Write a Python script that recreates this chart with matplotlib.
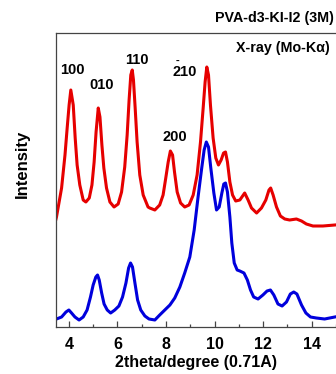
import matplotlib
matplotlib.use("Agg")
import matplotlib.pyplot as plt
from matplotlib.ticker import MultipleLocator

plt.rcParams['font.family'] = ['Liberation Sans', 'DejaVu Sans']

# Red curve (PVA-d3-KI-I2, upper trace)
red_x = [3.47, 3.49, 3.70, 3.84, 3.93, 4.01, 4.08, 4.18, 4.26, 4.34, 4.45, 4.59, 4.70, 4.84,
         4.95, 5.04, 5.12, 5.21, 5.28, 5.36, 5.44, 5.55, 5.69, 5.86, 6.03, 6.17, 6.30, 6.40,
         6.48, 6.55, 6.61, 6.66, 6.73, 6.81, 6.92, 7.06, 7.26, 7.33, 7.54, 7.74, 7.88, 7.99,
         8.09, 8.18, 8.27, 8.35, 8.46, 8.60, 8.77, 8.95, 9.12, 9.28, 9.42, 9.53, 9.61, 9.68,
         9.75, 9.83, 9.94, 10.05, 10.16, 10.27, 10.37, 10.45, 10.53, 10.63, 10.74, 10.87,
         11.04, 11.24, 11.38, 11.52, 11.73, 11.93, 12.11, 12.24, 12.31, 12.41, 12.55, 12.71,
         12.89, 13.09, 13.37, 13.58, 13.78, 14.05, 14.46, 14.95]
red_y = [108, 110, 139, 172, 199, 222, 237, 222, 189, 162, 142, 127, 125, 129,
         142, 165, 195, 219, 210, 182, 159, 139, 125, 120, 123, 135, 160, 192,
         227, 252, 257, 247, 219, 185, 152, 132, 120, 119, 117, 122, 132, 149,
         165, 176, 172, 155, 135, 124, 120, 122, 132, 152, 185, 219, 245, 260,
         252, 222, 189, 169, 162, 167, 174, 175, 165, 145, 132, 126,
         127, 134, 127, 119, 114, 119, 127, 137, 139, 132, 120, 111,
         108, 107, 108, 106, 103, 101, 101, 102]

# Blue curve (lower trace)
blue_x = [3.47, 3.49, 3.70, 3.88, 4.00, 4.11, 4.25, 4.42, 4.59, 4.75, 4.89, 5.00, 5.11, 5.18,
          5.25, 5.35, 5.45, 5.58, 5.72, 5.89, 6.06, 6.21, 6.35, 6.46, 6.54, 6.62, 6.72, 6.83,
          6.96, 7.13, 7.30, 7.54, 7.74, 7.95, 8.16, 8.36, 8.57, 8.77, 8.98, 9.16, 9.32, 9.46,
          9.57, 9.66, 9.75, 9.84, 9.97, 10.08, 10.19, 10.30, 10.38, 10.45, 10.53, 10.63, 10.71,
          10.81, 10.93, 11.04, 11.21, 11.35, 11.48, 11.61, 11.79, 11.99, 12.16, 12.30, 12.44,
          12.61, 12.78, 12.96, 13.12, 13.26, 13.39, 13.58, 13.76, 13.95, 14.19, 14.53, 14.95]
blue_y = [8, 8, 10, 15, 17, 14, 10, 7, 10, 17, 30, 42, 50, 52,
          47, 34, 23, 17, 14, 17, 21, 30, 44, 59, 64, 60, 44, 27,
          17, 11, 8, 7, 12, 17, 22, 29, 40, 54, 70, 97, 130, 157,
          177, 185, 180, 160, 134, 117, 120, 134, 143, 144, 135, 110, 84,
          64, 57, 56, 54, 47, 37, 30, 28, 32, 36, 37, 32,
          23, 21, 25, 33, 35, 33, 22, 14, 10, 9, 8, 10]

# Peak labels (Miller indices)
peak_labels = ["100", "010", "110", "200", "210"]
peak_label_x = [4.16, 5.36, 6.80, 8.36, 8.77]
peak_label_y = [257, 242, 267, 190, 255]

xticks = [4, 6, 8, 10, 12, 14]

W, H = 336, 374
fig = plt.figure(figsize=(W / 100, H / 100), dpi=100)
ax = fig.add_axes([56 / W, 47 / H, 280 / W, 294 / H])

ax.plot(red_x, red_y, color='#e60000', lw=2.2, solid_joinstyle='round')
ax.plot(blue_x, blue_y, color='#0000dc', lw=2.2, solid_joinstyle='round')

ax.set_xlim(3.47, 15.0)
ax.set_ylim(0, 294)
ax.set_xticks(xticks)
ax.xaxis.set_minor_locator(MultipleLocator(1))
ax.set_yticks([])
ax.tick_params(axis='x', which='major', direction='in', length=4, width=0.9, color='#444444',
               labelsize=11.5, pad=7)
ax.tick_params(axis='x', which='minor', direction='in', length=2.5, width=0.9, color='#444444')
for lab in ax.get_xticklabels():
    lab.set_fontweight('bold')
ax.spines['right'].set_visible(False)
for s in ['left', 'bottom', 'top']:
    ax.spines[s].set_color('#444444')
    ax.spines[s].set_linewidth(0.9)

ax.set_xlabel("2theta/degree (0.71A)", fontsize=11.5, fontweight='bold', labelpad=2)
ax.set_ylabel("Intensity", fontsize=12, fontweight='bold')
ax.yaxis.set_label_coords(-0.095, 0.554)

for t, x, y in zip(peak_labels, peak_label_x, peak_label_y):
    ax.text(x, y, t, fontsize=10.5, fontweight='bold', ha='center', va='center')
# bar over the "2" of 2-10
ax.text(8.47, 266, "-", fontsize=8, fontweight='bold', ha='center', va='center')

fig.text(334 / W, 1 - 18 / H, "PVA-d3-KI-I2 (3M)", fontsize=10.3, fontweight='bold',
         ha='right', va='center')
fig.text(330 / W, 1 - 48 / H, "X-ray (Mo-K\u03b1)", fontsize=10.3, fontweight='bold',
         ha='right', va='center')

fig.savefig("out.png", dpi=100)
